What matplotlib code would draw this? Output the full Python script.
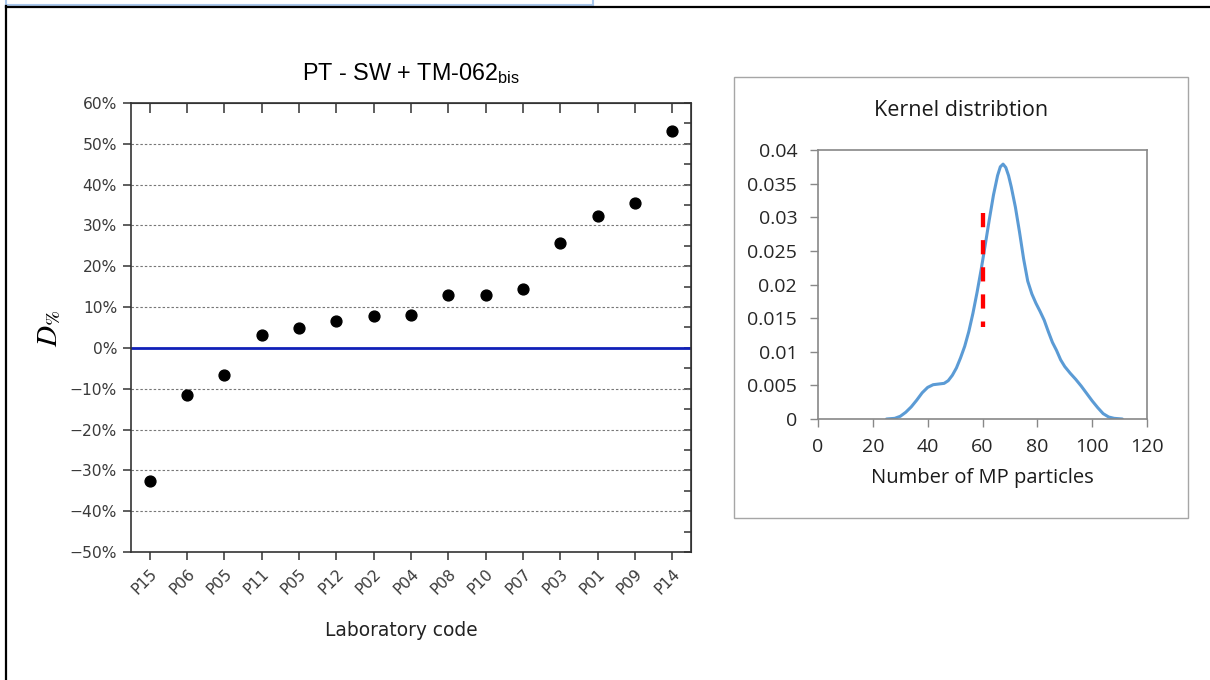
import matplotlib
matplotlib.use("Agg")
import matplotlib.pyplot as plt
from matplotlib.lines import Line2D
from matplotlib.patches import Rectangle

# ---------------- data ----------------
lab_codes = ["P15", "P06", "P05", "P11", "P05", "P12", "P02", "P04",
             "P08", "P10", "P07", "P03", "P01", "P09", "P14"]
d_percent = [-32.5, -11.5, -6.6, 3.2, 4.9, 6.6, 7.9, 8.0,
             12.9, 12.9, 14.5, 25.7, 32.2, 35.4, 53.1]
y_ticks_left = [60, 50, 40, 30, 20, 10, 0, -10, -20, -30, -40, -50]

kde_x = [25, 28, 30, 32, 34, 36, 38, 40, 42, 44, 46, 47.5, 49, 50.5, 52,
         53.5, 55, 56.5, 58, 59.5, 61, 62.5, 64, 65.5, 66.5, 67.5, 68.5,
         69.5, 70.5, 72, 73.5, 75, 76.5, 78, 79.5, 81, 82.5, 84, 85.5, 87,
         88.5, 90, 92, 94, 96, 98, 100, 102, 104, 106, 108, 111]
kde_y = [0.0, 0.0001, 0.0004, 0.0010, 0.0018, 0.0028, 0.0039, 0.0047,
         0.0051, 0.0052, 0.0053, 0.0057, 0.0065, 0.0076, 0.0091, 0.0108,
         0.0130, 0.0157, 0.0188, 0.0222, 0.0259, 0.0297, 0.0333, 0.0362,
         0.0375, 0.0379, 0.0374, 0.0362, 0.0345, 0.0315, 0.0278, 0.0238,
         0.0205, 0.0186, 0.0172, 0.0160, 0.0147, 0.0130, 0.0114, 0.0102,
         0.0088, 0.0078, 0.0068, 0.0059, 0.0049, 0.0038, 0.0027, 0.0017,
         0.0008, 0.0003, 0.0001, 0.0]
ref_x = [60, 60]
ref_y = [0.0307, 0.01375]
x_ticks_right = [0, 20, 40, 60, 80, 100, 120]
y_ticks_right = [0, 0.005, 0.01, 0.015, 0.02, 0.025, 0.03, 0.035, 0.04]
y_ticklabels_right = ["0", "0.005", "0.01", "0.015", "0.02", "0.025",
                      "0.03", "0.035", "0.04"]

plt.rcParams["mathtext.fontset"] = "stix"

W, H = 1210, 680
fig = plt.figure(figsize=(W / 100, H / 100), dpi=100)
fig.patch.set_facecolor("white")


def fx(px):
    return px / W


def fy(py):
    return 1 - py / H


# ---------------- page frame ----------------
blue_c = "#a8c6ea"
fig.add_artist(Line2D([fx(6), fx(6)], [fy(0), fy(5)], color=blue_c, lw=1.5,
                      transform=fig.transFigure))
fig.add_artist(Line2D([fx(6), fx(593)], [fy(5), fy(5)], color=blue_c, lw=1.5,
                      transform=fig.transFigure))
fig.add_artist(Line2D([fx(593), fx(593)], [fy(0), fy(5)], color=blue_c, lw=1.5,
                      transform=fig.transFigure))
fig.add_artist(Line2D([fx(6), fx(6)], [fy(6), fy(680)], color="black", lw=1.6,
                      transform=fig.transFigure))
fig.add_artist(Line2D([fx(5.5), fx(1210)], [fy(6.5), fy(6.5)], color="black",
                      lw=1.6, transform=fig.transFigure))

# ---------------- left chart ----------------
L, R, T, B = 131, 691, 103, 552
ax = fig.add_axes([fx(L), fy(B), fx(R - L), (B - T) / H])
xs = list(range(len(lab_codes)))
ax.axhline(0, color="#1020b8", lw=2.0, zorder=2)
for v in y_ticks_left:
    if v not in (0, 60, -50):
        ax.axhline(v, color="#777777", lw=0.8, ls=(0, (2.2, 1.8)), zorder=1)
ax.plot(xs, d_percent, "o", color="black", markersize=7.8, zorder=3)
ax.set_xlim(-0.5, len(lab_codes) - 0.5)
ax.set_ylim(-50, 60)
ax.set_yticks(y_ticks_left)
ax.set_yticklabels([(f"{v}%" if v >= 0 else f"\u2212{-v}%") for v in y_ticks_left],
                   family="DejaVu Sans", fontsize=11.2, color="#3a3a3a")
ax.set_xticks(xs)
ax.set_xticklabels(lab_codes, rotation=45, ha="right", va="top",
                   rotation_mode="anchor", family="DejaVu Sans", fontsize=11.2,
                   color="#3a3a3a")
ax.tick_params(axis="both", direction="out", length=6, width=1.1, color="#333333",
               pad=4)
for s in ax.spines.values():
    s.set_color("#333333")
    s.set_linewidth(1.2)
secy = ax.secondary_yaxis("right")
secy.set_yticks(list(range(-50, 61, 5)))
secy.set_yticklabels([])
secy.tick_params(direction="in", length=5, width=1.1, color="#333333")
secy.spines["right"].set_color("#333333")
secx = ax.secondary_xaxis("top")
secx.set_xticks(xs)
secx.set_xticklabels([])
secx.tick_params(direction="in", length=7, width=1.1, color="#333333")
secx.spines["top"].set_color("#333333")

fig.text(fx(411), fy(80), r"PT - SW + TM-062$_{\mathregular{bis}}$",
         family="Liberation Sans", fontsize=16.8, ha="center", va="baseline")
fig.text(fx(49), fy(328), r"$D_{\%}$", fontsize=21, rotation=90,
         ha="center", va="center")
fig.text(fx(401), fy(630), "Laboratory code", family="DejaVu Sans",
         fontsize=13.4, color="#222222", ha="center", va="center")

# ---------------- right chart ----------------
fig.add_artist(Rectangle((fx(734), fy(518)), fx(1188 - 734), (518 - 77) / H,
                         transform=fig.transFigure, facecolor="none",
                         edgecolor="#a6a6a6", lw=1.0))
L2, R2, T2, B2 = 818, 1147, 150, 419
ax2 = fig.add_axes([fx(L2), fy(B2), fx(R2 - L2), (B2 - T2) / H])
ax2.plot(kde_x, kde_y, color="#5b9bd5", lw=2.2, solid_capstyle="round",
         solid_joinstyle="round")
ax2.plot(ref_x, ref_y, color="#ff0000", lw=3.1, ls=(0, (3.3, 3.0)))
ax2.set_xlim(0, 120)
ax2.set_ylim(0, 0.04)
ax2.set_xticks(x_ticks_right)
ax2.set_xticklabels([str(v) for v in x_ticks_right], family="Open Sans",
                    fontsize=14, color="#262626")
ax2.set_yticks(y_ticks_right)
ax2.set_yticklabels(y_ticklabels_right, family="Open Sans", fontsize=14,
                    color="#262626")
ax2.tick_params(axis="y", direction="out", length=6, width=1.0,
                color="#888888", pad=9)
ax2.tick_params(axis="x", direction="out", length=6, width=1.0,
                color="#888888", pad=8)
for s in ax2.spines.values():
    s.set_color("#888888")
    s.set_linewidth(1.2)
fig.text(fx(961), fy(110), "Kernel distribtion", family="Open Sans",
         fontsize=15.5, color="#1a1a1a", ha="center", va="center")
fig.text(fx(982), fy(478), "Number of MP particles", family="Open Sans",
         fontsize=14.5, color="#1a1a1a", ha="center", va="center")

fig.savefig("out.png", dpi=100, facecolor="white")
